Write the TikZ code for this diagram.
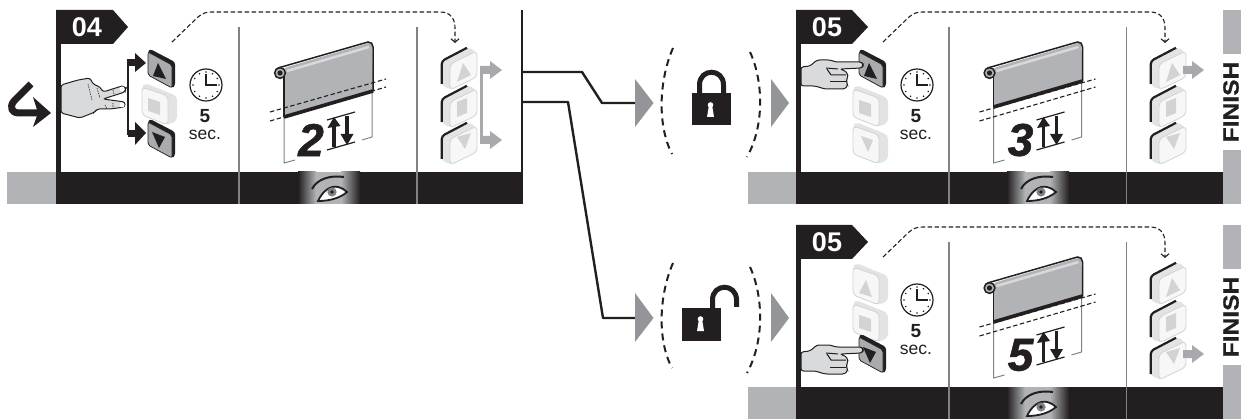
\documentclass[tikz,border=0pt]{standalone}
\usepackage{fontspec}
\setmainfont{Liberation Sans}
\usetikzlibrary{arrows.meta}
\definecolor{ink}{HTML}{231F20}
\definecolor{barg}{HTML}{B1B3B6}
\definecolor{trig}{HTML}{939598}
\definecolor{arrg}{HTML}{A7A9AC}
\definecolor{sepg}{HTML}{808285}
\definecolor{btng}{HTML}{A9ABAE}
\definecolor{lightside}{HTML}{E2E3E4}
\definecolor{lightface}{HTML}{F7F7F7}
\definecolor{lightglyph}{HTML}{D1D3D4}
\definecolor{skin}{HTML}{D9DADB}
\tikzset{
  txt/.style={inner sep=0pt,outer sep=0pt,text=ink},
  dashlink/.style={draw=ink,line width=1.1pt,dash pattern=on 4.5pt off 2.5pt},
  wire/.style={draw=ink,line width=2.4pt,line join=round},
  thinsep/.style={draw=sepg,line width=1.5pt},
  paren/.style={draw=ink,line width=2pt,dash pattern=on 7pt off 5pt},
  framel/.style={draw=sepg,line width=1pt},
  handout/.style={draw=ink,line width=1pt,fill=skin,rounded corners=2.5pt},
  handl/.style={draw=ink,line width=.6pt,dash pattern=on 1.5pt off 1pt},
}
\newcommand{\btndark}[3]{%
 \begin{scope}[shift={(#1,#2)}]
  \fill[ink,rounded corners=2.5pt] (2,0)--(27,13)--(27,37)--(24,39)--(0,26)--(0,3)--cycle;
  \fill[btng,draw=ink,line width=.7pt,rounded corners=2pt] (0,3)--(24,16)--(24,39)--(0,26)--cycle;
  \fill[ink] #3;
 \end{scope}}
\newcommand{\btnlight}[3]{%
 \begin{scope}[shift={(#1,#2)}]
  \fill[lightside,rounded corners=4pt] (3,0)--(35,13)--(35,38)--(25,42)--(0,32)--(0,4)--cycle;
  \draw[lightglyph,fill=lightface,line width=.8pt,rounded corners=4pt] (0,4)--(26,13)--(26,42)--(0,32)--cycle;
  \fill[lightglyph] #3;
 \end{scope}}
\newcommand{\btnside}[3]{%
 \begin{scope}[shift={(#1,#2)}]
  \fill[lightside,rounded corners=4pt] (0,38)--(0,14)--(26,0)--(35,4)--(35,30)--(10,43)--cycle;
  \draw[lightglyph,fill=lightface,line width=.8pt,rounded corners=4pt] (9,17)--(36,4)--(36,30)--(9,43)--cycle;
  \draw[ink,line width=2.2pt,rounded corners=3pt] (0.8,37)--(0.8,14)--(26,0.8);
  \fill[lightglyph] #3;
 \end{scope}}
\newcommand{\clockicon}[3]{%
 \begin{scope}[shift={(#1,#2)}]
  \node[draw=ink,line width=1.2pt,fill=white,circle,minimum size=32pt,inner sep=0pt] (#3) at (0,0) {};
  \foreach \a in {0,30,...,330}{\fill[ink] ({13*cos(\a)},{13*sin(\a)}) circle (.8pt);}
  \draw[ink,line width=1.6pt] (0,-11)--(0,0)--(11,0);
 \end{scope}}
\newcommand{\blindicon}[5]{%
 \begin{scope}[shift={(#1,#2)}]
  \draw[framel] (284,{117+#3})--(284,163)--(295,160);
  \draw[framel] (372,{90+#3})--(372,137)--(362,140);
  \fill[barg,rounded corners=3pt] (284,68)--(372,42)--(373,{91+#3})--(284,{117+#3})--cycle;
  \draw[white,line width=2.5pt,opacity=.5] (287,71)--(369,47);
  \draw[ink,line width=1.5pt,line cap=round] (278,68)--(368,42) .. controls (371,41.5) and (373,44) .. (373,47)--(373,{91+#3});
  \draw[ink,line width=1.1pt] (284,76)--(284,{117+#3});
  \draw[ink,line width=3.6pt] (284,{117+#3})--(373,{91+#3});
  \fill[barg,draw=ink,line width=1.5pt] (280,73) circle (5.4pt);
  \fill[ink] (280,73) circle (2.6pt);
  \draw[dashlink] (270,112)--(386,79);
  \draw[dashlink] (270,121)--(386,87);
  \node[txt,font=\fontsize{46}{46}\selectfont\bfseries\itshape\addfontfeature{FakeBold=1.2}] (#5) at (311,140) {#4};
  \draw[ink,line width=1.2pt] (327,120)--(355,112);
  \draw[ink,line width=1.2pt] (327,150)--(355,142);
  \draw[ink,line width=3.2pt] (334,147)--(334,126);
  \fill[ink] (327.5,128)--(334,117)--(340.5,126)--cycle;
  \draw[ink,line width=3.2pt] (347,116)--(347,136);
  \fill[ink] (340.5,134)--(353.5,134)--(347,145)--cycle;
 \end{scope}}
\newcommand{\eyeicon}[2]{%
 \begin{scope}[shift={(#1,#2)}]
  \shade[left color=ink,right color=barg] (298,172) rectangle (316,204);
  \fill[barg] (316,172) rectangle (341,204);
  \shade[left color=barg,right color=ink] (341,172) rectangle (360,204);
  \draw[ink,line width=2pt] (312,189) .. controls (317,179) and (330,175) .. (344,177);
  \draw[ink,line width=1.8pt,fill=white] (318,201) .. controls (322,192) and (330,185) .. (338,187) .. controls (342,188) and (345,190) .. (347,192) .. controls (340,198) and (330,201) .. (318,201) -- cycle;
  \fill[sepg] (332,192) circle (4.6pt);
  \fill[ink] (332,192) circle (1.8pt);
 \end{scope}}
\newcommand{\handpoint}[1]{%
 \begin{scope}[shift={(0,#1)}]
  \path[handout] (801,67)--(810,66)--(817,60)--(830,60)--(836,62)--(862,62)--(863,65)--(862,68)--(840,69)--(847,72)--(848,77)--(846,81)--(848,85)--(845,89)--(825,89)--(815,86)--(801,86)--cycle;
  \draw[ink,line width=1pt] (826,68)--(838,69);
  \draw[ink,line width=1pt] (827,69)--(831,75)--(846,75);
  \draw[ink,line width=1pt] (830,82)--(846,82);
 \end{scope}}
\begin{document}
\begin{tikzpicture}[x=1pt,y=-1pt]
\useasboundingbox (0,0) rectangle (1241,419);
\fill[barg] (7,172) rectangle (56,204);
\fill[ink] (56,172) rectangle (522,204);
\fill[ink] (56,10) rectangle (61,172);
\draw[ink,line width=1.8pt] (522,10)--(522,204);
\fill[ink] (56,10)--(113,10)--(128,27)--(113,44)--(56,44)--cycle;
\node[txt,text=white,font=\fontsize{27}{27}\selectfont\bfseries] (t04) at (87,27) {04};
\draw[thinsep] (239,27)--(239,204);
\draw[thinsep] (417,27)--(417,204);
\coordinate (d1a) at (172,42); \coordinate (d1b) at (455,43);
\draw[dashlink,-{Straight Barb[length=3.5pt,width=8pt]}] (d1a) -- (198,17) .. controls (203,13) and (206,12) .. (212,12) -- (440,12) .. controls (450,12) and (455,18) .. (455,28) -- (d1b);
\draw[ink,line width=7pt,line join=round] (31,84)--(14,101) .. controls (9,107) and (12,113) .. (18,113) -- (42,113);
\fill[ink] (33,97)--(51,113)--(33,127)--(38,113)--cycle;
\path[handout] (61,85)--(78,80)--(90,78)--(93,84)--(100,87)--(103,92)--(122,86)--(126,88)--(125,92)--(103,99)--(125,102)--(125,107)--(110,109)--(97,109)--(95,112)--(80,118)--(61,113)--cycle;
\fill[white] (122,89) circle (2.5pt) (122,105) circle (2.5pt);
\draw[handl] (88,84)--(92,100) (97,88)--(100,98) (105,105)--(107,109) (113,90)--(114,94) (113,103)--(113,108);
\draw[ink,line width=2.8pt] (136,60)--(128,60)--(128,134)--(136,134);
\fill[ink] (135,53)--(146,63)--(135,72)--cycle;
\fill[ink] (128,59)--(137,59)--(137,66)--(128,66)--cycle;
\fill[ink] (135,122)--(146,133)--(135,145)--cycle;
\fill[ink] (128,130)--(137,130)--(137,137)--(128,137)--cycle;
\btnlight{142}{83}{(6,15)--(18,19)--(18,32)--(6,28)--cycle}
\btndark{148}{49}{(5,27)--(18,30)--(10,14)--cycle}
\btndark{148}{119}{(4,13)--(17,18)--(11,29)--cycle}
\clockicon{206}{85}{c1}
\node[txt,font=\fontsize{19}{19}\selectfont\bfseries] (five1) at (205,116.5) {5};
\node[txt,font=\fontsize{17.5}{17.5}\selectfont] (sec1) at (205,134.5) {sec.};
\blindicon{0}{0}{0}{2}{n1}
\eyeicon{0}{0}
\btnside{441}{122}{(16,15)--(30,11)--(24,27)--cycle}
\btnside{441}{85}{(16,17)--(26,13)--(26,28)--(16,32)--cycle}
\btnside{441}{47}{(16,35)--(30,28)--(22,16)--cycle}
\draw[arrg,line width=3.5pt] (490,70)--(481.5,70)--(481.5,140)--(490,140);
\fill[arrg] (480,66)--(490,66)--(490,61)--(502,70)--(490,79)--(490,74)--(480,74)--cycle;
\fill[arrg] (480,136)--(490,136)--(490,131)--(502,140)--(490,149)--(490,144)--(480,144)--cycle;
\coordinate (j1) at (522,72); \coordinate (j2) at (522,102);
\coordinate (t1) at (636,103); \coordinate (t2) at (636,318);
\draw[wire] (j1)--(582,72)--(602,103)--(t1);
\draw[wire] (j2)--(568,102)--(603,318)--(t2);
\fill[trig] (635,79)--(653.5,103)--(635,127)--cycle;
\fill[trig] (635,293)--(653.5,318)--(635,342)--cycle;
\draw[paren] (673,48) .. controls (659,80) and (657,125) .. (672,154);
\draw[paren] (750,52) .. controls (763,80) and (765,125) .. (747,157);
\draw[paren] (673,263) .. controls (659,295) and (657,340) .. (672,368);
\draw[paren] (750,267) .. controls (763,295) and (765,340) .. (747,373);
\fill[ink] (692,93) rectangle (731,125);
\draw[ink,line width=5pt] (699.5,93)--(699.5,85) .. controls (699.5,68) and (723.5,68) .. (723.5,85)--(723.5,93);
\fill[white] (710.5,105) circle (2.8pt);
\fill[white] (709,105)--(712,105)--(714,117)--(707,117)--cycle;
\fill[ink] (682,308) rectangle (721,341);
\draw[ink,line width=5pt] (712.5,308)--(712.5,300) .. controls (712.5,283) and (736.5,283) .. (736.5,300)--(736.5,307);
\fill[white] (700.5,319) circle (2.8pt);
\fill[white] (699,319)--(702,319)--(704,331)--(697,331)--cycle;
\fill[trig] (771,79)--(789,103)--(771,127)--cycle;
\fill[trig] (771,293)--(789,318)--(771,342)--cycle;
\foreach \dy/\nm in {0/a,215/b}{
 \begin{scope}[shift={(0,\dy)}]
  \fill[barg] (748,172) rectangle (796,204);
  \fill[ink] (796,172) rectangle (1223,204);
  \fill[ink] (796,10) rectangle (801,172);
  \fill[ink] (796,10)--(852,10)--(868,27)--(852,44)--(796,44)--cycle;
  \node[txt,text=white,font=\fontsize{27}{27}\selectfont\bfseries] (t05\nm) at (827,27) {05};
  \draw[thinsep] (949,27)--(949,204);
  \draw[thinsep] (1126.5,27)--(1126.5,204);
  \coordinate (ds\nm) at (883,42); \coordinate (de\nm) at (1165,43);
  \draw[dashlink,-{Straight Barb[length=3.5pt,width=8pt]}] (ds\nm) -- (909,17) .. controls (914,13) and (917,12) .. (923,12) -- (1150,12) .. controls (1160,12) and (1165,18) .. (1165,28) -- (de\nm);
  \clockicon{917}{85}{c\nm}
  \node[txt,font=\fontsize{19}{19}\selectfont\bfseries] (five\nm) at (916,116.5) {5};
  \node[txt,font=\fontsize{17.5}{17.5}\selectfont] (sec\nm) at (916,134.5) {sec.};
  \btnside{1150}{122}{(16,15)--(30,11)--(24,27)--cycle}
  \btnside{1150}{85}{(16,17)--(26,13)--(26,28)--(16,32)--cycle}
  \btnside{1150}{47}{(16,35)--(30,28)--(22,16)--cycle}
  \eyeicon{709}{0}
  \fill[barg] (1223,10) rectangle (1241,54);
  \fill[barg] (1223,150) rectangle (1241,204);
  \node[txt,rotate=90,font=\fontsize{22}{22}\selectfont\bfseries\addfontfeature{FakeBold=.6}] (fin\nm) at (1231,102) {\scalebox{1.12}[1]{FINISH}};
 \end{scope}
}
\btnlight{853}{122}{(8,14)--(20,18)--(15,30)--cycle}
\btnlight{853}{85}{(6,15)--(18,19)--(18,32)--(6,28)--cycle}
\btndark{859}{49}{(5,27)--(18,30)--(10,14)--cycle}
\handpoint{0}
\fill[arrg] (1183,66)--(1192,66)--(1192,61)--(1204,70)--(1192,79)--(1192,74)--(1183,74)--cycle;
\blindicon{709.5}{0}{-10}{3}{n2}
\btnlight{853}{300}{(6,15)--(18,19)--(18,32)--(6,28)--cycle}
\btnlight{853}{263}{(6,30)--(19,34)--(13,17)--cycle}
\btndark{859}{334}{(4,13)--(17,18)--(11,29)--cycle}
\handpoint{285}
\fill[arrg] (1183,350)--(1192,350)--(1192,345)--(1204,354)--(1192,363)--(1192,358)--(1183,358)--cycle;
\blindicon{709.5}{215}{-10}{5}{n3}
\end{tikzpicture}
\end{document}
